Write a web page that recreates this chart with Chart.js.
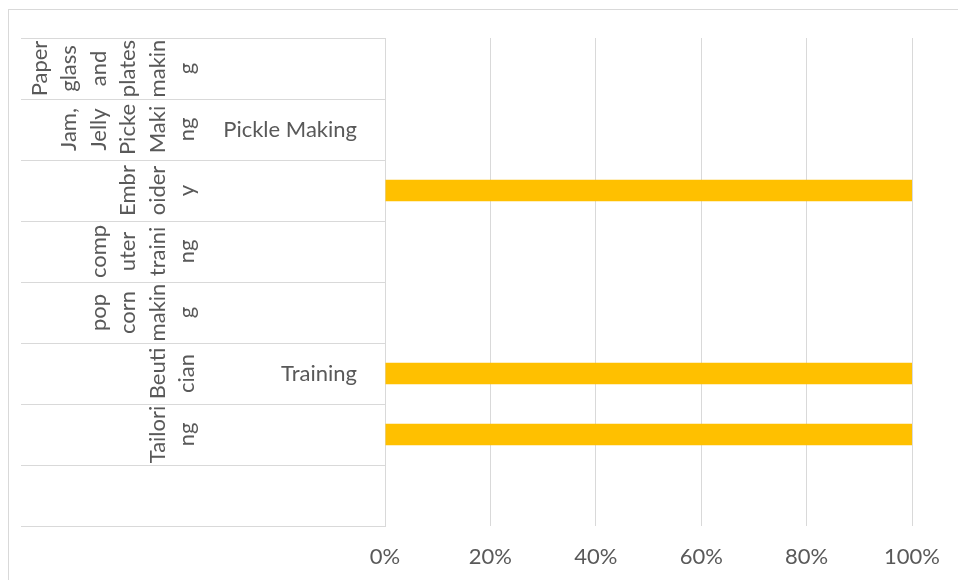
<!DOCTYPE html>
<html>
<head>
<meta charset="utf-8">
<script src="https://cdn.jsdelivr.net/npm/chart.js@4/dist/chart.umd.min.js"></script>
<style>
  html, body { margin: 0; padding: 0; background: #fff; overflow: hidden; }
  #wrap { width: 958px; height: 580px; }
</style>
</head>
<body>
<div id="wrap"><canvas id="chart" width="958" height="580"></canvas></div>
<script>
const BAR_GOLD = '#FFC000'
const GRID = '#D9D9D9'
const TEXT = '#595959'
const FONT = "Lato, 'Open Sans', sans-serif"

// Inner category level, split the way the narrow axis wraps it
const activities = [
  ['Paper', 'glass', 'and', 'plates', 'makin', 'g'],
  ['Jam,', 'Jelly', 'Picke', 'Maki', 'ng'],
  ['Embr', 'oider', 'y'],
  ['comp', 'uter', 'traini', 'ng'],
  ['pop', 'corn', 'makin', 'g'],
  ['Beuti', 'cian'],
  ['Tailori', 'ng'],
  [''],
]
// Outer category level
const groups = ['', 'Pickle Making', '', '', '', 'Training', '', '']
// Share of respondents, %
const shares = [null, null, 100, null, null, 100, 100, null]
const xTicks = [0, 20, 40, 60, 80, 100]

// Draws the outer frame and the two levels of category labels
const categoryLevels = {
  id: 'categoryLevels',
  beforeDraw(chart) {
    const ctx = chart.ctx
    ctx.save()
    ctx.strokeStyle = GRID
    ctx.lineWidth = 1
    ctx.strokeRect(8.5, 9.5, chart.width, chart.height)
    ctx.restore()
  },
  afterDraw(chart) {
    const y = chart.scales.y
    const ctx = chart.ctx
    const split = y.right - 164
    ctx.save()
    ctx.fillStyle = TEXT
    ctx.font = '22px ' + FONT
    activities.forEach((lines, i) => {
      const cy = y.getPixelForValue(i)
      lines.forEach((line, k) => {
        const cx = split - 34 - (lines.length - 1 - k) * 29.5
        ctx.save()
        ctx.translate(cx, cy)
        ctx.rotate(-Math.PI / 2)
        ctx.textAlign = 'center'
        ctx.textBaseline = 'middle'
        ctx.fillText(line, 0, 0)
        ctx.restore()
      })
      if (groups[i]) {
        ctx.textAlign = 'right'
        ctx.textBaseline = 'middle'
        ctx.fillText(groups[i], y.right - 28, cy)
      }
    })
    ctx.restore()
  },
}

new Chart(document.getElementById('chart'), {
  type: 'bar',
  data: {
    labels: activities,
    datasets: [
      {
        data: shares,
        backgroundColor: BAR_GOLD,
        borderWidth: 0,
        barPercentage: 0.35,
        categoryPercentage: 1,
      },
    ],
  },
  options: {
    indexAxis: 'y',
    responsive: false,
    animation: false,
    layout: { padding: { top: 38, right: 42, left: 0, bottom: 0 } },
    plugins: {
      legend: { display: false },
      tooltip: { enabled: false },
    },
    scales: {
      x: {
        min: 0,
        max: 100,
        grid: { color: GRID, drawTicks: false },
        border: { display: false },
        afterBuildTicks: (s) => { s.ticks = xTicks.map((v) => ({ value: v })) },
        afterFit: (s) => { s.height = 54 },
        ticks: {
          padding: 18,
          color: TEXT,
          font: { family: FONT, size: 22 },
          callback: (v) => v + '%',
        },
      },
      y: {
        grid: { color: GRID, drawOnChartArea: false, tickLength: 364, offset: true },
        border: { color: GRID },
        ticks: { display: false },
        afterFit: (s) => { s.width = 385 },
      },
    },
  },
  plugins: [categoryLevels],
})
</script>
</body>
</html>
